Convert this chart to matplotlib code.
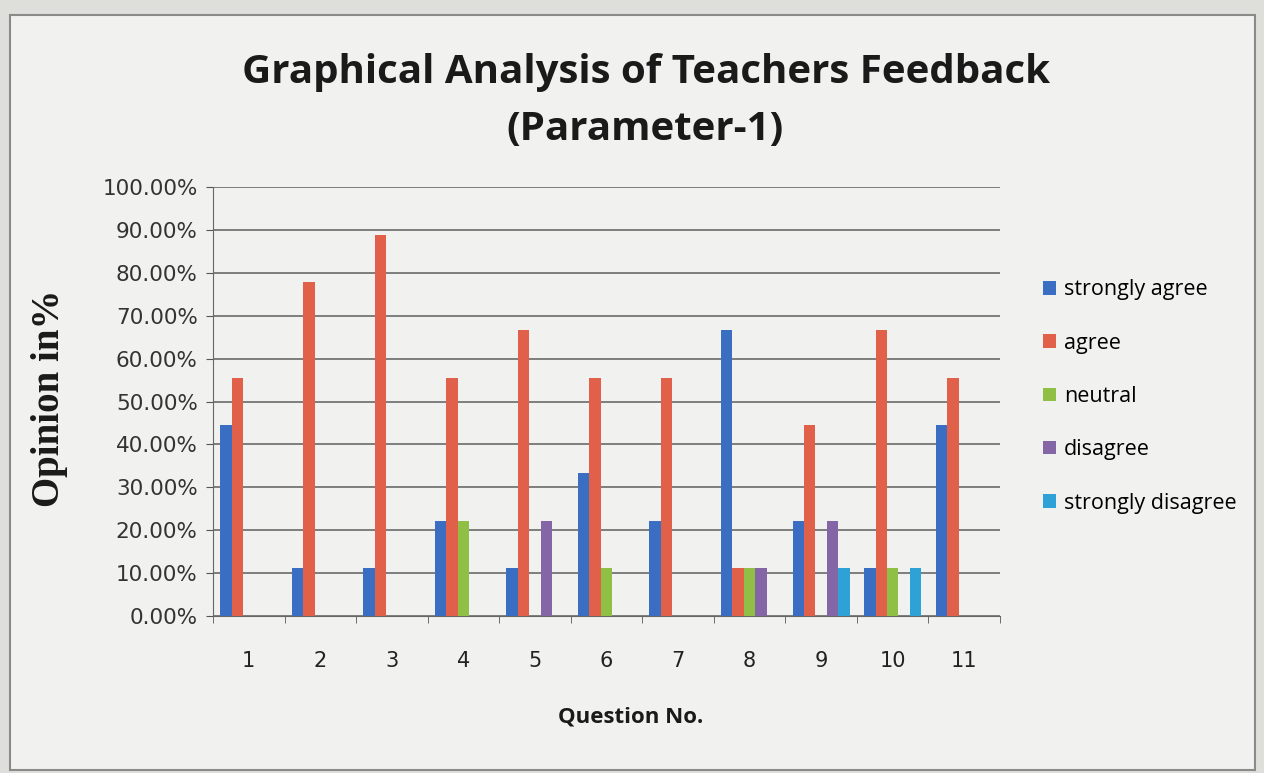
import matplotlib
matplotlib.use("Agg")
import matplotlib.pyplot as plt
import numpy as np
from matplotlib.patches import Rectangle
from matplotlib.ticker import FuncFormatter, FixedLocator

questions = ["1", "2", "3", "4", "5", "6", "7", "8", "9", "10", "11"]
series_names = ["strongly agree", "agree", "neutral", "disagree", "strongly disagree"]
strongly_agree = [44.44, 11.11, 11.11, 22.22, 11.11, 33.33, 22.22, 66.67, 22.22, 11.11, 44.44]
agree = [55.56, 77.78, 88.89, 55.56, 66.67, 55.56, 55.56, 11.11, 44.44, 66.67, 55.56]
neutral = [0, 0, 0, 22.22, 0, 11.11, 0, 11.11, 0, 11.11, 0]
disagree = [0, 0, 0, 0, 22.22, 0, 0, 11.11, 22.22, 0, 0]
strongly_disagree = [0, 0, 0, 0, 0, 0, 0, 0, 11.11, 11.11, 0]
colors = ["#3a6ec2", "#e0604a", "#8fbf45", "#8466a6", "#2ea2d6"]

data = [strongly_agree, agree, neutral, disagree, strongly_disagree]

fig = plt.figure(figsize=(12.64, 7.73), dpi=100, facecolor="#dededb")
bg = Rectangle((10/1264, 3/773), 1245/1264, 755/773, transform=fig.transFigure,
               facecolor="#f1f1ef", edgecolor="#8a8a88", lw=1.5, zorder=-10)
fig.add_artist(bg)

ax = fig.add_axes([213/1264, 1-616/773, 787/1264, 429/773])
ax.set_facecolor("none")
ax.set_zorder(2)

x = np.arange(len(questions))
bw = 0.16
for i, (name, vals, c) in enumerate(zip(series_names, data, colors)):
    ax.bar(x + (i - 2) * bw, vals, width=bw, color=c, label=name, zorder=3)

ax.set_xlim(-0.5, len(questions) - 0.5)
ax.set_ylim(0, 100)
ax.set_yticks(np.arange(0, 101, 10))
ax.yaxis.set_major_formatter(FuncFormatter(lambda v, p: f"{v:.2f}%"))
ax.grid(axis="y", color="#6a6a6a", lw=1.2, zorder=1)
ax.set_xticks(x)
ax.set_xticklabels(questions)
ax.xaxis.set_minor_locator(FixedLocator(np.arange(-0.5, len(questions), 1)))
ax.tick_params(axis="x", which="major", length=0, pad=25, labelsize=15, colors="#222222")
ax.tick_params(axis="x", which="minor", length=5, color="#555555")
ax.tick_params(axis="y", length=5, pad=6, labelsize=15.5, colors="#333333", color="#555555")
for s in ["top", "right"]:
    ax.spines[s].set_visible(False)
ax.spines["left"].set_color("#666666")
ax.spines["bottom"].set_color("#666666")

fig.text(646/1264, 1-73/773, "Graphical Analysis of Teachers Feedback", ha="center", va="center",
         fontsize=29, fontweight="bold", family="Open Sans", color="#1a1a1a")
fig.text(645/1264, 1-130/773, "(Parameter-1)", ha="center", va="center",
         fontsize=29, fontweight="bold", family="Open Sans", color="#1a1a1a")
fig.text(631/1264, 1-717/773, "Question No.", ha="center", va="center",
         fontsize=16, fontweight="bold", family="Open Sans", color="#1a1a1a")
fig.text(50/1264, 1-398/773, "Opinion in%", ha="center", va="center", rotation=90,
         fontsize=28, fontweight="bold", family="Liberation Serif", color="#1a1a1a")

leg = fig.legend(loc="upper left", bbox_to_anchor=(1024/1264, 1-260/773), frameon=False,
                 handlelength=0.6, handleheight=0.6, handletextpad=0.35,
                 labelspacing=1.5, prop={"family": "Open Sans", "size": 15.5})

fig.savefig("out.png", dpi=100, facecolor=fig.get_facecolor())
